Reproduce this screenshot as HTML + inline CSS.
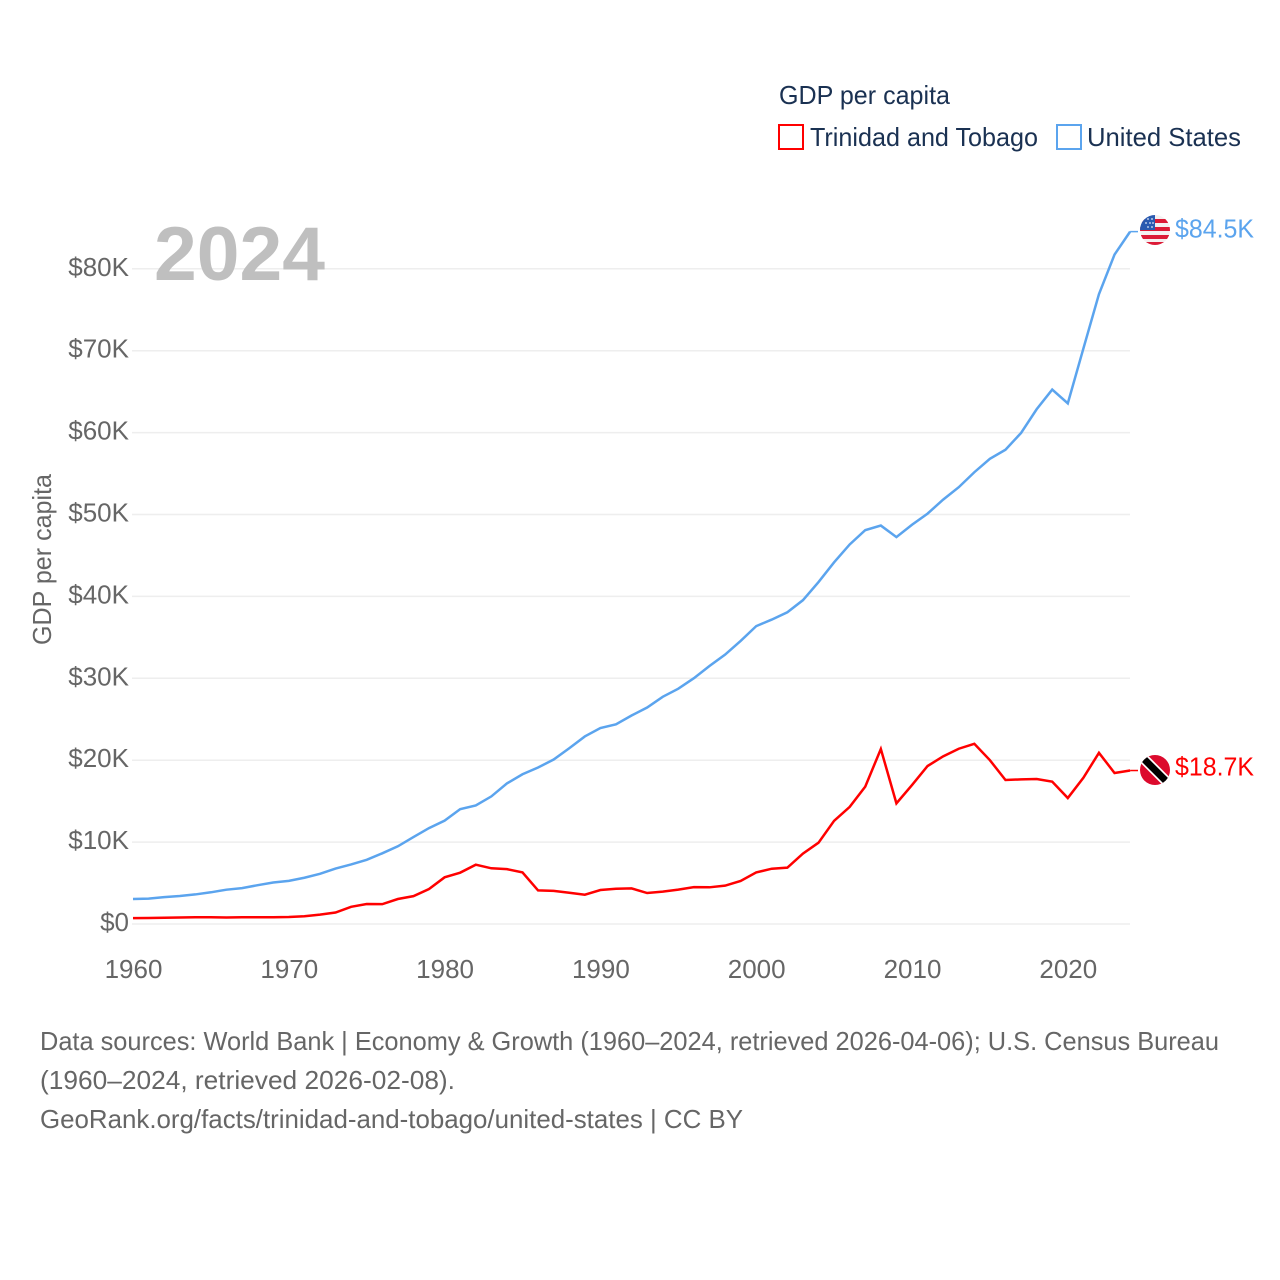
<!DOCTYPE html>
<html lang="en">
<head>
<meta charset="utf-8">
<title>GDP per capita: Trinidad and Tobago vs United States</title>
<style>
html,body{margin:0;padding:0;background:#fff;width:1280px;height:1280px;overflow:hidden}
svg{display:block}
text{font-family:"Liberation Sans",sans-serif}
</style>
</head>
<body>
<svg id="chart" xmlns="http://www.w3.org/2000/svg" width="1280" height="1280" viewBox="0 0 1280 1280">
  <defs>
    <clipPath id="us-clip"><circle cx="1155" cy="230" r="15"/></clipPath>
    <clipPath id="tt-clip"><circle cx="1155" cy="770" r="15"/></clipPath>
  </defs>
  <rect width="1280" height="1280" fill="#fff"/>
  <g id="grid"></g>
  <text x="154" y="280" font-size="76" font-weight="bold" fill="#bfbfbf" textLength="171" lengthAdjust="spacingAndGlyphs">2024</text>
  <g id="y-ticks"></g>
  <g id="x-ticks"></g>
  <text transform="translate(51,645) rotate(-90)" font-size="26" fill="#666" textLength="171" lengthAdjust="spacingAndGlyphs">GDP per capita</text>
  <g id="series"></g>

  <g>
    <text x="779" y="104" font-size="26" fill="#1a3152" textLength="171" lengthAdjust="spacingAndGlyphs">GDP per capita</text>
    <g>
      <rect x="779" y="125" width="24" height="24" fill="#fff" stroke="#ff0000" stroke-width="2"/>
      <text x="810" y="146" font-size="26" fill="#1a3152" textLength="228" lengthAdjust="spacingAndGlyphs">Trinidad and Tobago</text>
    </g>
    <g>
      <rect x="1057" y="125" width="24" height="24" fill="#fff" stroke="#5ba4ee" stroke-width="2"/>
      <text x="1087" y="146" font-size="26" fill="#1a3152" textLength="154" lengthAdjust="spacingAndGlyphs">United States</text>
    </g>
  </g>

  <g clip-path="url(#us-clip)">
    <rect x="1140" y="215" width="30" height="30" fill="#f4f0f0"/>
    <rect x="1140" y="219" width="30" height="4" fill="#dc1a36"/>
    <rect x="1140" y="227" width="30" height="4" fill="#dc1a36"/>
    <rect x="1140" y="235" width="30" height="4" fill="#dc1a36"/>
    <rect x="1140" y="242" width="30" height="3" fill="#dc1a36"/>
    <rect x="1140" y="215" width="15" height="15" fill="#2a5ab0"/>
    <circle cx="1148" cy="219" r="0.9" fill="#dfe8f6"/>
    <circle cx="1152" cy="219" r="0.9" fill="#dfe8f6"/>
    <circle cx="1146" cy="223" r="0.9" fill="#dfe8f6"/>
    <circle cx="1150" cy="223" r="0.9" fill="#dfe8f6"/>
    <circle cx="1153" cy="223" r="0.9" fill="#dfe8f6"/>
    <circle cx="1148" cy="227" r="0.9" fill="#dfe8f6"/>
    <circle cx="1152" cy="227" r="0.9" fill="#dfe8f6"/>
  </g>
  <g clip-path="url(#tt-clip)">
    <rect x="1140" y="755" width="30" height="30" fill="#dc0a2d"/>
    <line x1="1140" y1="755" x2="1170" y2="785" stroke="#fff" stroke-width="10.5"/>
    <line x1="1140" y1="755" x2="1170" y2="785" stroke="#000" stroke-width="7"/>
  </g>

  <g id="end-labels"></g>

  <g font-size="26" fill="#666">
    <text x="40" y="1050" textLength="1179" lengthAdjust="spacingAndGlyphs">Data sources: World Bank | Economy &amp; Growth (1960–2024, retrieved 2026-04-06); U.S. Census Bureau</text>
    <text x="40" y="1089" textLength="415" lengthAdjust="spacingAndGlyphs">(1960–2024, retrieved 2026-02-08).</text>
    <text x="40" y="1128" textLength="703" lengthAdjust="spacingAndGlyphs">GeoRank.org/facts/trinidad-and-tobago/united-states | CC BY</text>
  </g>
</svg>
<script>
var startYear = 1960;
var xTickYears = [1960, 1970, 1980, 1990, 2000, 2010, 2020];
var yTickValues = [0, 10, 20, 30, 40, 50, 60, 70, 80];
var usValues = [3.05, 3.10, 3.28, 3.42, 3.61, 3.87, 4.19, 4.38, 4.74, 5.07,
  5.27, 5.65, 6.13, 6.77, 7.27, 7.84, 8.63, 9.49, 10.61, 11.71,
  12.62, 14.02, 14.47, 15.58, 17.16, 18.28, 19.11, 20.08, 21.46, 22.90,
  23.93, 24.38, 25.46, 26.43, 27.74, 28.73, 30.01, 31.50, 32.89, 34.56,
  36.37, 37.17, 38.06, 39.54, 41.75, 44.16, 46.34, 48.09, 48.65, 47.24,
  48.75, 50.11, 51.82, 53.33, 55.16, 56.80, 57.91, 59.96, 62.85, 65.25,
  63.57, 70.26, 76.90, 81.74, 84.54];
var ttValues = [0.72, 0.74, 0.76, 0.80, 0.82, 0.82, 0.79, 0.82, 0.82, 0.82,
  0.85, 0.95, 1.15, 1.40, 2.10, 2.44, 2.42, 3.05, 3.40, 4.27,
  5.70, 6.27, 7.24, 6.80, 6.70, 6.30, 4.10, 4.05, 3.82, 3.58,
  4.15, 4.31, 4.35, 3.78, 3.95, 4.20, 4.50, 4.48, 4.68, 5.25,
  6.30, 6.75, 6.88, 8.60, 9.93, 12.60, 14.30, 16.77, 21.37, 14.73,
  16.97, 19.29, 20.47, 21.40, 22.00, 20.00, 17.58, 17.66, 17.70, 17.38,
  15.38, 17.86, 20.90, 18.44, 18.74];

var SVG_NS = 'http://www.w3.org/2000/svg';
function xScale(year) { return 133 + (year - 1960) * 15.58; }
function yScale(v) { return 924 - v * 8.19; }
function make(tag, parentId) {
  var el = document.createElementNS(SVG_NS, tag);
  document.getElementById(parentId).appendChild(el);
  return el;
}

yTickValues.forEach(function (v) {
  var line = make('line', 'grid');
  
  
  line.setAttribute('x1', 132);
  line.setAttribute('x2', 1130);
  line.setAttribute('y1', yScale(v));
  line.setAttribute('y2', yScale(v));
  line.setAttribute('stroke', '#eeeeee');
  line.setAttribute('stroke-width', 1.5);

  var label = make('text', 'y-ticks');
  
  
  label.setAttribute('x', 129);
  label.setAttribute('y', yScale(v) + 7);
  label.setAttribute('text-anchor', 'end');
  label.setAttribute('font-size', 26);
  label.setAttribute('fill', '#666');
  label.textContent = v === 0 ? '$0' : '$' + v + 'K';
});

xTickYears.forEach(function (year) {
  var label = make('text', 'x-ticks');
  
  
  label.setAttribute('x', xScale(year) + 0.5);
  label.setAttribute('y', 978);
  label.setAttribute('text-anchor', 'middle');
  label.setAttribute('font-size', 26);
  label.setAttribute('fill', '#666');
  label.textContent = String(year);
});

function drawSeries(values, color, name, labelYOffset) {
  var pts = values.map(function (v, i) {
    return xScale(startYear + i).toFixed(2) + ',' + yScale(v).toFixed(2);
  }).join(' ');
  var line = make('polyline', 'series');
  
  
  line.setAttribute('points', pts);
  line.setAttribute('fill', 'none');
  line.setAttribute('stroke', color);
  line.setAttribute('stroke-width', 2.5);
  line.setAttribute('stroke-linejoin', 'miter');

  var last = values[values.length - 1];
  var lastX = xScale(startYear + values.length - 1);
  var connector = make('line', 'series');
  
  
  connector.setAttribute('x1', lastX);
  connector.setAttribute('x2', 1138);
  connector.setAttribute('y1', yScale(last));
  connector.setAttribute('y2', yScale(last));
  connector.setAttribute('stroke', color);
  connector.setAttribute('stroke-width', 1.5);

  var label = make('text', 'end-labels');
  
  
  label.setAttribute('x', 1175);
  label.setAttribute('y', yScale(last) + labelYOffset);
  label.setAttribute('font-size', 26);
  label.setAttribute('fill', color);
  label.setAttribute('textLength', 79);
  label.setAttribute('lengthAdjust', 'spacingAndGlyphs');
  label.textContent = '$' + last.toFixed(1) + 'K';
}

drawSeries(usValues, '#5ba4ee', 'series-united-states', 6);
drawSeries(ttValues, '#ff0000', 'series-trinidad-and-tobago', 5);
</script>
</body>
</html>
